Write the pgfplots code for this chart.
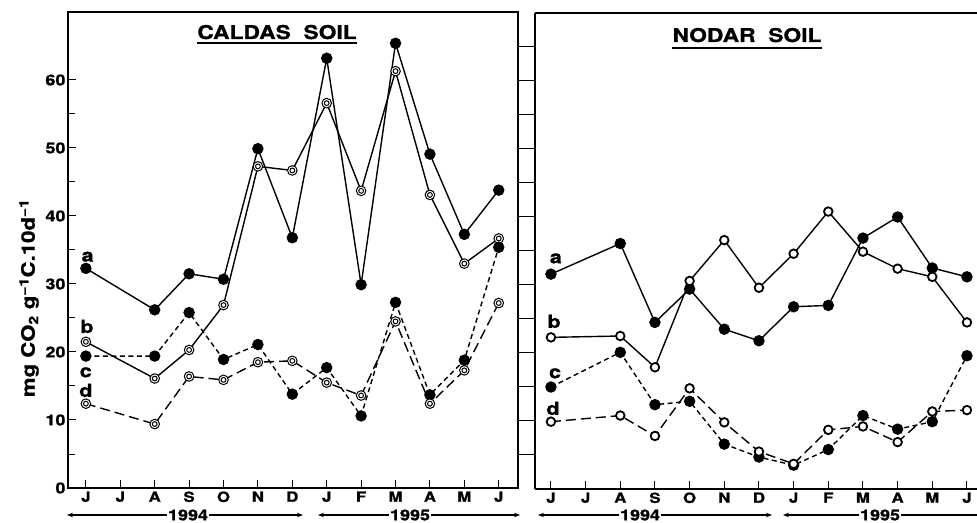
\documentclass[border=0pt]{standalone}
\usepackage{fontspec}
\setmainfont{TeX Gyre Heros}[FakeStretch=1.2, BoldFeatures={FakeBold=1}]
\usepackage{pgfplots}
\pgfplotsset{compat=1.18}
\usetikzlibrary{arrows.meta}

% double circle (Caldas open marks)
\pgfdeclareplotmark{dcirc}{%
  \pgfpathcircle{\pgfpointorigin}{\pgfplotmarksize}%
  \pgfusepathqfillstroke
  \pgfpathcircle{\pgfpointorigin}{0.5\pgfplotmarksize}%
  \pgfusepathqstroke}

\pgfplotsset{
  panel/.style={
    scale only axis, height=476pt, ymin=0, ymax=70,
    axis line style={line width=1.1pt},
    tick style={black, line width=1pt},
    major tick length=8pt, minor tick length=7pt,
    tick align=inside,
    xtick={0,...,12},
    xticklabels={J,J,A,S,O,N,D,J,F,M,A,M,J},
    xtick pos=left,
    x tick label style={font=\bfseries\fontsize{14}{14}\selectfont, yshift=0pt},
    clip=false,
  },
  ln/.style={black, line width=1.4pt},
  filled/.style={ln, mark=*, mark size=5pt, mark options={solid, fill=black}},
  dopen/.style={ln, mark=dcirc, mark size=4.8pt, mark options={solid, fill=white, line width=1pt}},
  sopen/.style={ln, mark=*, mark size=4.3pt, mark options={solid, fill=white, line width=1.8pt}},
  shortd/.style={dash pattern=on 5pt off 3.5pt},
  longd/.style={dash pattern=on 10pt off 5pt},
}
\tikzset{lab/.style={font=\bfseries\fontsize{18}{18}\selectfont, anchor=base}}

\begin{document}
\begin{tikzpicture}
\useasboundingbox (0,0) rectangle (977pt,522pt);

% ---- Caldas soil
\begin{axis}[panel,
  at={(68pt,34pt)}, anchor=south west, width=450pt,
  xmin=-0.52, xmax=12.56,
  ytick={0,10,...,60}, minor y tick num=1, ytick pos=left,
  /pgf/number format/assume math mode=true,
  y tick label style={font=\bfseries\fontsize{15}{15}\selectfont, xshift=1pt},
]
\addplot[filled] coordinates {(0,32.3)(2,26.2)(3,31.5)(4,30.7)(5,49.9)(6,36.8)(7,63.2)(8,29.9)(9,65.4)(10,49.1)(11,37.3)(12,43.8)};
\addplot[dopen] coordinates {(0,21.5)(2,16.1)(3,20.3)(4,26.9)(5,47.3)(6,46.7)(7,56.6)(8,43.7)(9,61.3)(10,43.1)(11,33.0)(12,36.7)};
\addplot[filled, shortd] coordinates {(0,19.4)(2,19.4)(3,25.8)(4,18.9)(5,21.1)(6,13.8)(7,17.7)(8,10.6)(9,27.3)(10,13.7)(11,18.8)(12,35.4)};
\addplot[dopen, longd] coordinates {(0,12.4)(2,9.4)(3,16.4)(4,15.9)(5,18.5)(6,18.7)(7,15.5)(8,13.6)(9,24.5)(10,12.4)(11,17.3)(12,27.2)};
\node[lab] at (axis cs:0.05,33.3) {a};
\node[lab] at (axis cs:0.03,22.8) {b};
\node[lab] at (axis cs:0.0,16.3) {c};
\node[lab] at (axis cs:0.0,13.4) {d};
\end{axis}

% ---- Nodar soil
\begin{axis}[panel,
  at={(535pt,33pt)}, anchor=south west, width=442pt,
  xmin=-0.46, xmax=12.29,
  axis x line*=box, axis y line*=left,
  xtick pos=left,
  ytick=\empty,
  extra y ticks={5,10,15,20,25,30,35,40,45,50,55,60,65},
  extra y tick labels={},
  extra y tick style={tick align=outside, major tick length=17pt},
]
\addplot[filled] coordinates {(0,31.6)(2,36.1)(3,24.5)(4,29.4)(5,23.5)(6,21.8)(7,26.8)(8,27.0)(9,36.9)(10,40.0)(11,32.5)(12,31.2)};
\addplot[sopen] coordinates {(0,22.3)(2,22.5)(3,17.9)(4,30.6)(5,36.6)(6,29.6)(7,34.6)(8,40.8)(9,34.9)(10,32.4)(11,31.2)(12,24.5)};
\addplot[filled, shortd] coordinates {(0,15.0)(2,20.1)(3,12.4)(4,12.9)(5,6.6)(6,4.7)(7,3.5)(8,5.8)(9,10.8)(10,8.8)(11,9.9)(12,19.6)};
\addplot[sopen, longd] coordinates {(0,9.9)(2,10.8)(3,7.8)(4,14.8)(5,9.8)(6,5.5)(7,3.7)(8,8.7)(9,9.2)(10,6.9)(11,11.4)(12,11.6)};
\node[lab] at (axis cs:0.14,33.2) {a};
\node[lab] at (axis cs:0.09,23.7) {b};
\node[lab] at (axis cs:0.12,16.3) {c};
\node[lab] at (axis cs:0.06,10.9) {d};
\end{axis}

% titles
\node[anchor=base, inner sep=0, font=\bfseries\fontsize{19}{19}\selectfont] (t1) at (277pt,483pt) {CALDAS\ \ SOIL};
\draw[line width=1.8pt] ([yshift=-4pt]t1.base west) -- ([yshift=-4pt]t1.base east);
\node[anchor=base, inner sep=0, font=\bfseries\fontsize{19}{19}\selectfont] (t2) at (747pt,480pt) {NODAR\ \ SOIL};
\draw[line width=1.8pt] ([yshift=-6pt]t2.base west) -- ([yshift=-6pt]t2.base east);

% y label
\node[rotate=90, font=\bfseries\fontsize{18.5}{18.5}\selectfont] at (29pt,224pt) {mg CO\textsubscript{2} g\textsuperscript{−1}C.10d\textsuperscript{−1}};

% year spans
\begin{scope}[line width=1.1pt, font=\bfseries\fontsize{15}{15}\selectfont]
\draw[{Stealth[length=6pt]}-{Stealth[length=6pt]}] (67pt,7pt) -- (303pt,7pt);
\node[fill=white, inner sep=1pt] at (188pt,7pt) {1994};
\draw[{Stealth[length=6pt]}-{Stealth[length=6pt]}] (318pt,7pt) -- (520pt,7pt);
\node[fill=white, inner sep=1pt] at (410pt,7pt) {1995};
\draw[{Stealth[length=6pt]}-{Stealth[length=6pt]}] (538pt,7pt) -- (772pt,7pt);
\node[fill=white, inner sep=1pt] at (640pt,7pt) {1994};
\draw[{Stealth[length=6pt]}-] (783pt,7pt) -- (980pt,7pt);
\node[fill=white, inner sep=1pt] at (880pt,7pt) {1995};
\end{scope}
\end{tikzpicture}
\end{document}
